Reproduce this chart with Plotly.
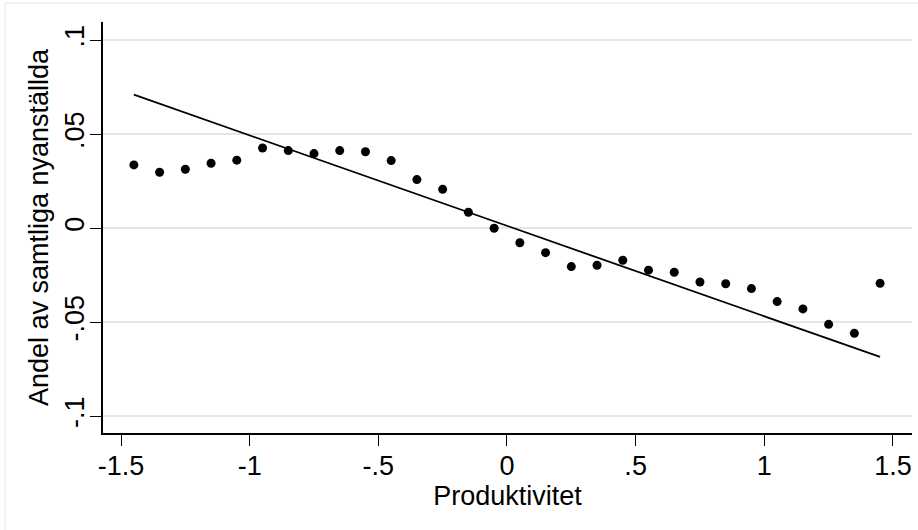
import plotly.graph_objects as go

# Binned scatter data (Produktivitet bins vs. share of new hires)
bin_x = [-1.45, -1.35, -1.25, -1.15, -1.05, -0.95, -0.85, -0.75, -0.65, -0.55,
         -0.45, -0.35, -0.25, -0.15, -0.05, 0.05, 0.15, 0.25, 0.35, 0.45,
         0.55, 0.65, 0.75, 0.85, 0.95, 1.05, 1.15, 1.25, 1.35, 1.45]
bin_y = [0.0337, 0.0298, 0.0314, 0.0346, 0.0362, 0.0427, 0.0413, 0.0397, 0.0413, 0.0407,
         0.0360, 0.0259, 0.0207, 0.0085, 0.0000, -0.0077, -0.0130, -0.0204, -0.0197, -0.0170,
         -0.0223, -0.0234, -0.0286, -0.0295, -0.0321, -0.0390, -0.0429, -0.0511, -0.0559, -0.0293]

# Linear fit
fit_x = [-1.45, 1.45]
fit_intercept = 0.0013
fit_slope = -0.0481
fit_y = [fit_intercept + fit_slope * x for x in fit_x]

x_tickvals = [-1.5, -1, -0.5, 0, 0.5, 1, 1.5]
x_ticktext = ["-1.5", "-1", "-.5", "0", ".5", "1", "1.5"]
y_tickvals = [-0.1, -0.05, 0, 0.05, 0.1]
y_ticktext = ["-.1", "-.05", "0", ".05", ".1"]

FONT = "Liberation Sans, Arial, sans-serif"
FS = 27

fig = go.Figure()
fig.add_trace(go.Scatter(x=bin_x, y=bin_y, mode="markers",
                         marker=dict(color="black", size=9), showlegend=False))
fig.add_trace(go.Scatter(x=fit_x, y=fit_y, mode="lines",
                         line=dict(color="black", width=1.8), showlegend=False))

fig.update_layout(
    width=918, height=530,
    margin=dict(l=103, r=6, t=22, b=97, autoexpand=False),
    paper_bgcolor="white", plot_bgcolor="white",
    font=dict(family=FONT, color="black", size=FS),
    xaxis=dict(range=[-1.57, 1.574], tickvals=x_tickvals, ticktext=x_ticktext,
               ticks="outside", ticklen=11, tickwidth=1, tickcolor="black",
               ticklabelstandoff=-3,
               showline=True, linecolor="black", linewidth=1.5,
               showgrid=False, zeroline=False, automargin=False,
               title=dict(text="Produktivitet", standoff=0, font=dict(size=FS))),
    yaxis=dict(range=[-0.1089, 0.1097], tickvals=y_tickvals, ticktext=y_ticktext,
               ticks="outside", ticklen=11, tickwidth=1, tickcolor="black",
               tickangle=-90, automargin=False, ticklabelstandoff=-5,
               showline=True, linecolor="black", linewidth=1.5,
               showgrid=True, gridcolor="#e6e6e6", gridwidth=1.5, zeroline=False,
               title=dict(text="Andel av samtliga nyanställda", standoff=4, font=dict(size=FS))),
    shapes=[dict(type="rect", xref="paper", yref="paper",
                 x0=-0.1211, x1=1.03, y0=-0.26, y1=1.046,
                 line=dict(color="#e8e8e8", width=1), layer="below")],
)

fig.write_html("out.html", config={"displayModeBar": False},
               post_script="document.body.style.margin='0';")
